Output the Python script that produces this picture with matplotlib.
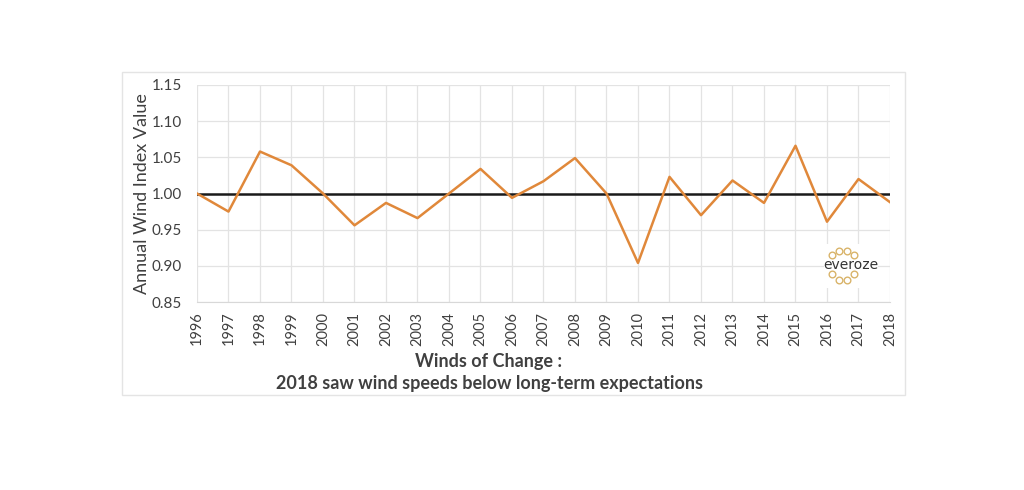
# Annual wind index chart ("Winds of Change")
import matplotlib
matplotlib.use("Agg")
import matplotlib.pyplot as plt
from matplotlib.patches import Rectangle

# --- data ---
years = [1996, 1997, 1998, 1999, 2000, 2001, 2002, 2003, 2004, 2005, 2006, 2007,
         2008, 2009, 2010, 2011, 2012, 2013, 2014, 2015, 2016, 2017, 2018]
wind_index = [1.000, 0.975, 1.058, 1.039, 1.000, 0.956, 0.987, 0.966, 1.000, 1.034,
              0.994, 1.017, 1.049, 1.000, 0.904, 1.023, 0.970, 1.018, 0.987, 1.066,
              0.961, 1.020, 0.988]
y_ticks = [0.85, 0.90, 0.95, 1.00, 1.05, 1.10, 1.15]
baseline = 1.0
title_lines = ["Winds of Change :", "2018 saw wind speeds below long-term expectations"]

plt.rcParams['font.family'] = ['Lato', 'DejaVu Sans']
TXT = '#404040'
ORANGE = '#E0883A'
GOLD = '#D9B46A'

fig = plt.figure(figsize=(10.24, 4.9), dpi=100)
fig.patch.set_facecolor('white')

# light frame round the whole chart
fig.patches.append(Rectangle((122 / 1024, 1 - 395 / 490), (905 - 122) / 1024, (395 - 72) / 490,
                             transform=fig.transFigure, fill=False, edgecolor='#e4e4e4', lw=1))

ax = fig.add_axes([197 / 1024, 1 - 302 / 490, (890 - 197) / 1024, (302 - 85) / 490])
ax.plot(years, wind_index, color=ORANGE, lw=1.8, zorder=3)
ax.axhline(baseline, color='#1a1a1a', lw=1.8, zorder=2)

ax.set_xlim(years[0], years[-1])
ax.set_ylim(y_ticks[0], y_ticks[-1])
ax.set_xticks(years)
ax.set_xticklabels([str(y) for y in years], rotation=90, fontsize=10.5, color=TXT)
ax.set_yticks(y_ticks)
ax.set_yticklabels([f"{v:.2f}" for v in y_ticks], fontsize=11, color=TXT)
ax.tick_params(length=0)
ax.tick_params(axis='y', pad=11)
ax.tick_params(axis='x', pad=7)
ax.grid(True, color='#e3e3e3', lw=0.9)
ax.set_axisbelow(True)
for s in ['top', 'right', 'left']:
    ax.spines[s].set_visible(False)
ax.spines['bottom'].set_color('#d8d8d8')

ax.set_ylabel("Annual Wind Index Value", fontsize=13, color=TXT, labelpad=1)

fig.text(489 / 1024, 1 - 361 / 490, title_lines[0], ha='center', va='center',
         fontsize=13, fontweight='bold', color=TXT)
fig.text(489 / 1024, 1 - 383 / 490, title_lines[1], ha='center', va='center',
         fontsize=13, fontweight='bold', color=TXT)

# everoze logo on a white patch that hides the grid
ax.add_patch(Rectangle((824 / 1024, 1 - 288 / 490), 54 / 1024, 44 / 490,
                       transform=fig.transFigure, facecolor='white', edgecolor='none', zorder=1))
fig.text(851 / 1024, 1 - 265 / 490, "everoze", ha='center', va='center',
         fontsize=10, color='#333333', family='DejaVu Sans')
logo_x = [832, 839, 847, 854, 832, 839, 847, 854]
logo_y = [255, 251, 251, 255, 274, 280, 280, 274]
fig.add_artist(plt.Line2D([x / 1024 for x in logo_x], [1 - y / 490 for y in logo_y],
                          transform=fig.transFigure, ls='none', marker='o', ms=4.8,
                          mfc='none', mec=GOLD, mew=1))

fig.savefig('out.png', dpi=100)
